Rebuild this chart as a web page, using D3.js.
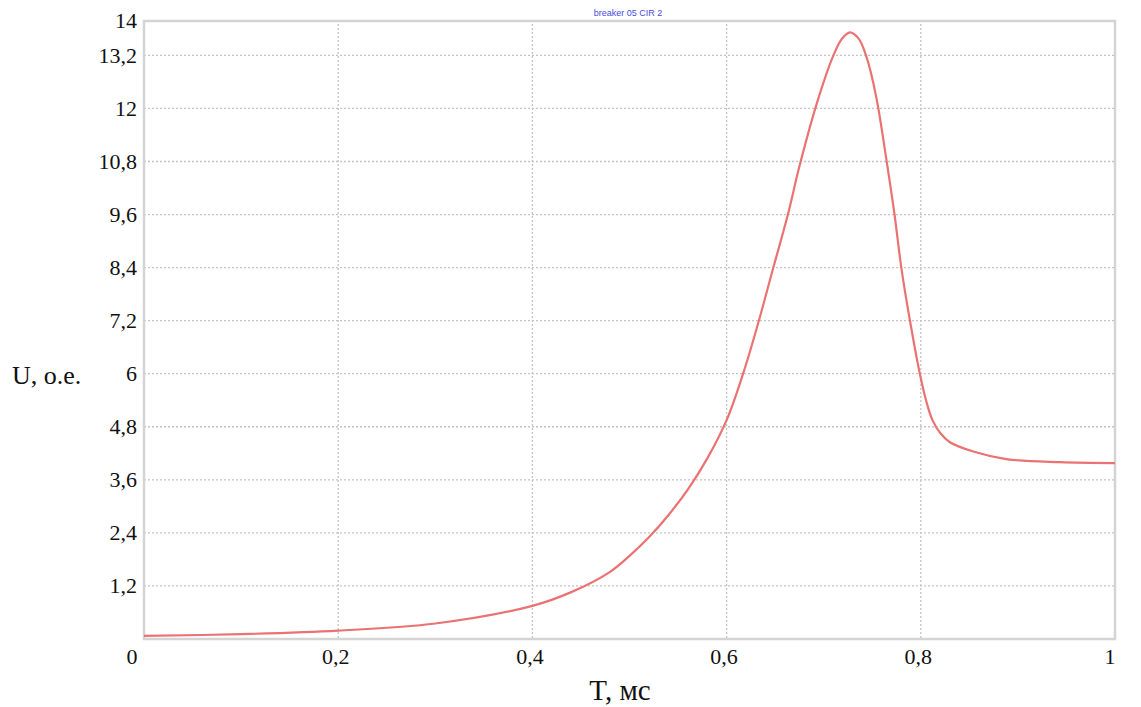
<!DOCTYPE html>
<html>
<head>
	<meta charset="UTF-8" />
	<title>breaker 05 CIR 2</title>
	<script src="https://d3js.org/d3.v7.min.js"></script>
	<style>
		body { margin: 0; background: #fff; }
		.tick text { font-family: "Liberation Serif", "Times New Roman", serif; font-size: 22px; fill: #111; }
	</style>
</head>
<body>
<div id="chart"></div>
<script>
	// time, ms
	var tValues = [0, 0.1, 0.2, 0.3, 0.4, 0.44, 0.48, 0.5, 0.52, 0.54, 0.56, 0.58, 0.6, 0.617, 0.633,
		0.648, 0.663, 0.675, 0.693, 0.710, 0.719, 0.727, 0.736, 0.744, 0.754, 0.765, 0.773, 0.780, 0.789, 0.799,
		0.806, 0.812, 0.82, 0.83, 0.854, 0.888, 0.943, 1.0];
	// voltage, p.u.
	var uValues = [0.07, 0.11, 0.19, 0.35, 0.75, 1.06, 1.52, 1.88, 2.3, 2.8, 3.38, 4.08, 4.95, 6.0, 7.18,
		8.39, 9.59, 10.69, 12.12, 13.2, 13.58, 13.72, 13.58, 13.17, 12.27, 10.78, 9.59, 8.39, 7.18, 6.0,
		5.35, 4.95, 4.66, 4.45, 4.24, 4.07, 4.0, 3.98];

	var xTicks = [0, 0.2, 0.4, 0.6, 0.8, 1];
	var yTicks = [1.2, 2.4, 3.6, 4.8, 6, 7.2, 8.4, 9.6, 10.8, 12, 13.2, 14];

	var data = tValues.map(function(t, i) { return {t: t, u: uValues[i]}; });

	// plot box (note: "top" is taken by window.top)
	var pLeft = 144, pRight = 1115, pTop = 20, pBottom = 639;

	var svg = d3.select("#chart")
		.append("svg")
		.attr("width", 1141)
		.attr("height", 707);

	var x = d3.scaleLinear().domain([0, 1]).range([pLeft, pRight]);
	var y = d3.scaleLinear().domain([0, 14]).range([pBottom, pTop]);

	var fmt = function(d) { return String(d).replace(".", ","); };

	// grid
	svg.append("g")
		.selectAll("line")
		.data(xTicks.slice(1, -1))
		.enter().append("line")
		.attr("x1", function(d) { return x(d); })
		.attr("x2", function(d) { return x(d); })
		.attr("y1", pTop)
		.attr("y2", pBottom)
		.attr("stroke", "#c4c4c4")
		.attr("stroke-width", 1.3)
		.attr("stroke-dasharray", "2,2");

	svg.append("g")
		.selectAll("line")
		.data(yTicks.slice(0, -1))
		.enter().append("line")
		.attr("x1", pLeft)
		.attr("x2", pRight)
		.attr("y1", function(d) { return y(d); })
		.attr("y2", function(d) { return y(d); })
		.attr("stroke", "#c4c4c4")
		.attr("stroke-width", 1.3)
		.attr("stroke-dasharray", "2,2");

	// frame
	svg.append("rect")
		.attr("x", pLeft)
		.attr("y", pTop + 1)
		.attr("width", pRight - pLeft)
		.attr("height", pBottom - pTop - 1)
		.attr("fill", "none")
		.attr("stroke", "#d4d4d4")
		.attr("stroke-width", 2.5);

	// axes (labels only)
	var yAxis = svg.append("g")
		.attr("transform", "translate(" + (pLeft - 7) + ",0)")
		.call(d3.axisLeft(y).tickValues(yTicks).tickFormat(fmt).tickSize(0).tickPadding(0));
	yAxis.select(".domain").remove();

	var xAxis = svg.append("g")
		.attr("transform", "translate(0," + (pBottom + 5) + ")")
		.call(d3.axisBottom(x).tickValues(xTicks).tickFormat(fmt).tickSize(0).tickPadding(0));
	xAxis.select(".domain").remove();
	xAxis.selectAll(".tick text")
		.attr("dy", "0.9em")
		.attr("text-anchor", function(d) { return d === 0 || d === 1 ? "end" : "middle"; })
		.attr("dx", function(d) { return d === 0 ? -7 : (d === 1 ? 0 : -3); });

	// curve
	svg.append("path")
		.datum(data)
		.attr("fill", "none")
		.attr("stroke", "#ea7272")
		.attr("stroke-width", 2.2)
		.attr("d", d3.line()
			.x(function(d) { return x(d.t); })
			.y(function(d) { return y(d.u); })
			.curve(d3.curveCatmullRom.alpha(0.5)));

	// titles
	svg.append("text")
		.attr("x", 628)
		.attr("y", 16)
		.attr("text-anchor", "middle")
		.attr("font-family", "Liberation Sans, Arial, sans-serif")
		.attr("font-size", 9)
		.attr("fill", "#4a4adf")
		.text("breaker 05 CIR 2");

	svg.append("text")
		.attr("x", 12)
		.attr("y", 384)
		.attr("font-family", "Liberation Serif, Times New Roman, serif")
		.attr("font-size", 26)
		.attr("fill", "#111")
		.text("U, o.e.");

	svg.append("text")
		.attr("x", 620)
		.attr("y", 700)
		.attr("text-anchor", "middle")
		.attr("font-family", "Liberation Serif, Times New Roman, serif")
		.attr("font-size", 29)
		.attr("fill", "#111")
		.text("T, мс");
</script>
</body>
</html>
